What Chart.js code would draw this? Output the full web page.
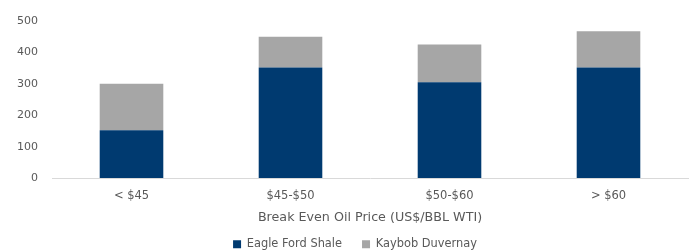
<!DOCTYPE html>
<html>
<head>
<meta charset="utf-8">
<script src="https://cdn.jsdelivr.net/npm/chart.js@4.4.1/dist/chart.umd.min.js"></script>
<style>
    html, body { margin: 0; padding: 0; background: #fff; }
    #wrap { width: 691px; height: 251px; }
</style>
</head>
<body>
<div id="wrap"><canvas id="breakEvenChart"></canvas></div>
<script>
const categories = ['< $45', '$45-$50', '$50-$60', '> $60'];
const eagleFord = [152, 352, 305, 352];
const kaybob = [148, 98, 120, 115];
const yTicks = [0, 100, 200, 300, 400, 500];

const textColor = '#595959';
const fontFamily = "'DejaVu Sans', sans-serif";

// legend sits a little right of the canvas centre in the original
const legendShift = {
    id: 'legendShift',
    afterLayout: function(chart) {
        chart.legend.left += 11;
        chart.legend.right += 11;
    }
};

new Chart(document.getElementById('breakEvenChart').getContext('2d'), {
    type: 'bar',
    data: {
        labels: categories,
        datasets: [
            {
                label: 'Eagle Ford Shale',
                data: eagleFord,
                backgroundColor: '#003a70',
                barPercentage: 0.4,
                categoryPercentage: 1
            },
            {
                label: 'Kaybob Duvernay',
                data: kaybob,
                backgroundColor: '#a6a6a6',
                barPercentage: 0.4,
                categoryPercentage: 1
            }
        ]
    },
    options: {
        responsive: true,
        maintainAspectRatio: false,
        animation: false,
        layout: {
            // legend padding is wide (item spacing), so pull it down past the edge
            padding: { top: 21, right: 3, left: 0, bottom: -9 }
        },
        plugins: {
            tooltip: { enabled: false },
            legend: {
                position: 'bottom',
                labels: {
                    boxWidth: 8,
                    boxHeight: 8,
                    padding: 20,
                    color: textColor,
                    font: { family: fontFamily, size: 11.4 }
                }
            }
        },
        scales: {
            x: {
                stacked: true,
                afterFit: function(scale) { scale.height = 40.5; },
                grid: { display: false, drawTicks: false },
                border: { color: '#d9d9d9' },
                ticks: {
                    color: textColor,
                    padding: 11,
                    font: { family: fontFamily, size: 11.5 }
                },
                title: {
                    display: true,
                    text: 'Break Even Oil Price (US$/BBL WTI)',
                    color: textColor,
                    padding: { top: 0, bottom: -7 },
                    font: { family: fontFamily, size: 12.7 }
                }
            },
            y: {
                stacked: true,
                min: 0,
                max: 500,
                afterFit: function(scale) { scale.width = 52; },
                afterBuildTicks: function(scale) {
                    scale.ticks = yTicks.map(v => ({ value: v }));
                },
                grid: { display: false, drawTicks: false },
                border: { display: false },
                ticks: {
                    color: textColor,
                    padding: 14,
                    font: { family: fontFamily, size: 11 }
                }
            }
        }
    },
    plugins: [legendShift]
});
</script>
</body>
</html>
